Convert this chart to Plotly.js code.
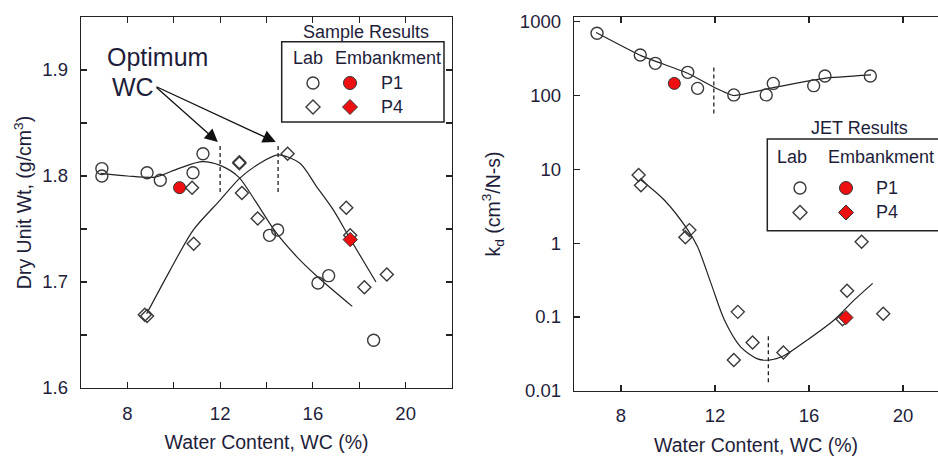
<!DOCTYPE html>
<html><head><meta charset="utf-8">
<script src="https://cdn.plot.ly/plotly-3.0.1.min.js"></script>
<style>html,body{margin:0;padding:0;background:#fff}</style>
</head><body><div id="chart" style="width:938px;height:456px"></div>
<script>
// ---------- Left panel: Sample (proctor) results ----------
const dryP1LabWC  = [6.9, 6.9, 8.85, 9.42, 10.83, 11.26, 14.13, 14.48, 16.22, 16.68, 18.62];
const dryP1LabWt  = [1.807, 1.800, 1.803, 1.796, 1.803, 1.821, 1.744, 1.749, 1.699, 1.706, 1.645];
const dryP1EmbWC  = [10.25];
const dryP1EmbWt  = [1.789];
const dryP4LabWC  = [8.75, 8.85, 10.79, 10.86, 12.83, 12.83, 12.94, 13.62, 14.91, 17.44, 17.61, 18.22, 19.19];
const dryP4LabWt  = [1.669, 1.668, 1.789, 1.736, 1.813, 1.812, 1.784, 1.760, 1.821, 1.770, 1.744, 1.695, 1.707];
const dryP4EmbWC  = [17.61];
const dryP4EmbWt  = [1.740];
const dryP1FitWC  = [6.85, 8.0, 9.2, 10.2, 11.2, 12.0, 12.8, 13.5, 14.4, 15.3, 16.2, 17.7];
const dryP1FitWt  = [1.8025, 1.800, 1.799, 1.807, 1.8135, 1.810, 1.799, 1.777, 1.747, 1.724, 1.705, 1.677];
const dryP4FitWC  = [8.83, 9.84, 10.84, 11.99, 12.85, 13.71, 14.5, 15.44, 16.16, 16.88, 17.6, 18.72];
const dryP4FitWt  = [1.670, 1.711, 1.749, 1.777, 1.798, 1.812, 1.820, 1.812, 1.790, 1.768, 1.741, 1.700];
const optimumWC   = [12, 14.5];
const optimumWtSpan = [1.785, 1.831];
const dryXTicks = [8, 12, 16, 20];
const dryXMinor = [10, 14, 18];
const dryYTicks = [1.6, 1.7, 1.8, 1.9];
const dryYMinor = [1.65, 1.75, 1.85];

// ---------- Right panel: JET results ----------
const kdP1LabWC = [6.98, 8.82, 9.46, 10.84, 11.26, 12.8, 14.18, 14.48, 16.2, 16.68, 18.61];
const kdP1LabKd = [697, 354, 273, 206, 125, 102, 102, 146, 136, 184, 184];
const kdP1EmbWC = [10.27];
const kdP1EmbKd = [146];
const kdP4LabWC = [8.75, 8.85, 10.74, 10.91, 12.97, 12.8, 13.6, 14.91, 17.62, 17.43, 18.24, 19.16];
const kdP4LabKd = [8.4, 6.1, 1.2, 1.5, 0.117, 0.026, 0.045, 0.033, 0.226, 0.093, 1.04, 0.11];
const kdP4EmbWC = [17.57];
const kdP4EmbKd = [0.098];
const kdP1FitWC = [6.94, 8.85, 10.84, 11.97, 12.8, 14.52, 16.65, 18.64];
const kdP1FitKd = [714, 347, 200, 129, 100, 129, 171, 190];
const kdP4FitWC = [8.85, 9.84, 10.84, 11.26, 11.83, 12.4, 13.1, 13.81, 14.31, 14.95, 15.94, 17.07, 17.93, 18.71];
const kdP4FitKd = [7.16, 3.84, 1.51, 0.89, 0.285, 0.091, 0.039, 0.027, 0.026, 0.030, 0.049, 0.091, 0.17, 0.285];
const kdOptP1WC = 11.95, kdOptP1Span = [57, 259];
const kdOptP4WC = 14.27, kdOptP4Span = [0.013, 0.06];
const kdXTicks = [8, 12, 16, 20];
const kdYTicks = [0.01, 0.1, 1, 10, 100, 1000];
const kdYText  = ['0.01', '0.1', '1', '10', '100', '1000'];

const W = 938, H = 456;
const TXT = '#1e1e3a', LINE = '#222', MK = '#3a3a3a', RED = '#ee1010';
const FONT = 'Liberation Sans, Arial, sans-serif';
const px = v => v / W, py = v => 1 - v / H;

const fitLine = {color: LINE, width: 1.2, shape: 'spline', smoothing: 0.8};
const fitLineStraight = {color: LINE, width: 1.2, shape: 'spline', smoothing: 0.4};
const dashLine = {color: LINE, width: 1.3, dash: '4px,3px'};
const hollow = (sym, size) => ({symbol: sym, size: size, color: 'rgba(255,255,255,0)', line: {color: MK, width: 1.4}});
const filled = (sym, size) => ({symbol: sym, size: size, color: RED, line: {color: '#333', width: 1}});

const traces = [
  {x: dryP1FitWC, y: dryP1FitWt, mode: 'lines', line: fitLine, xaxis: 'x', yaxis: 'y'},
  {x: dryP4FitWC, y: dryP4FitWt, mode: 'lines', line: fitLine, xaxis: 'x', yaxis: 'y'},
  {x: [optimumWC[0], optimumWC[0]], y: optimumWtSpan, mode: 'lines', line: dashLine, xaxis: 'x', yaxis: 'y'},
  {x: [optimumWC[1], optimumWC[1]], y: optimumWtSpan, mode: 'lines', line: dashLine, xaxis: 'x', yaxis: 'y'},
  {x: dryP1LabWC, y: dryP1LabWt, mode: 'markers', marker: hollow('circle', 12), xaxis: 'x', yaxis: 'y'},
  {x: dryP4LabWC, y: dryP4LabWt, mode: 'markers', marker: hollow('diamond', 10), xaxis: 'x', yaxis: 'y'},
  {x: dryP1EmbWC, y: dryP1EmbWt, mode: 'markers', marker: filled('circle', 12), xaxis: 'x', yaxis: 'y'},
  {x: dryP4EmbWC, y: dryP4EmbWt, mode: 'markers', marker: filled('diamond', 11), xaxis: 'x', yaxis: 'y'},

  {x: kdP1FitWC, y: kdP1FitKd, mode: 'lines', line: fitLineStraight, xaxis: 'x2', yaxis: 'y2'},
  {x: kdP4FitWC, y: kdP4FitKd, mode: 'lines', line: fitLine, xaxis: 'x2', yaxis: 'y2'},
  {x: [kdOptP1WC, kdOptP1WC], y: kdOptP1Span, mode: 'lines', line: dashLine, xaxis: 'x2', yaxis: 'y2'},
  {x: [kdOptP4WC, kdOptP4WC], y: kdOptP4Span, mode: 'lines', line: dashLine, xaxis: 'x2', yaxis: 'y2'},
  {x: kdP1LabWC, y: kdP1LabKd, mode: 'markers', marker: hollow('circle', 12), xaxis: 'x2', yaxis: 'y2'},
  {x: kdP4LabWC, y: kdP4LabKd, mode: 'markers', marker: hollow('diamond', 10), xaxis: 'x2', yaxis: 'y2'},
  {x: kdP1EmbWC, y: kdP1EmbKd, mode: 'markers', marker: filled('circle', 12), xaxis: 'x2', yaxis: 'y2'},
  {x: kdP4EmbWC, y: kdP4EmbKd, mode: 'markers', marker: filled('diamond', 11), xaxis: 'x2', yaxis: 'y2'}
];

const axBase = {
  showgrid: false, zeroline: false, showline: true, linecolor: LINE, linewidth: 1.3,
  ticks: 'inside', ticklen: 6, tickwidth: 1.2, tickcolor: LINE,
  tickfont: {family: FONT, size: 18.5, color: TXT}, tickmode: 'array'
};
const minorOf = vals => ({tickvals: vals, ticks: 'inside', ticklen: 6, tickwidth: 1.2, tickcolor: LINE, showgrid: false});
const titleFont = {family: FONT, size: 19.5, color: TXT};

const layout = {
  width: W, height: H, showlegend: false,
  paper_bgcolor: '#fff', plot_bgcolor: '#fff',
  margin: {l: 0, r: 0, t: 0, b: 0},
  font: {family: FONT, color: TXT},
  xaxis: Object.assign({}, axBase, {
    domain: [px(81), px(452)], range: [6, 22], anchor: 'y', mirror: 'ticks',
    tickvals: dryXTicks, minor: minorOf(dryXMinor), ticklabelstandoff: 8,
    title: {text: 'Water Content, WC (%)', font: titleFont, standoff: 12}
  }),
  yaxis: Object.assign({}, axBase, {
    domain: [1 - 388 / H, 1 - 17 / H], range: [1.6, 1.95], anchor: 'x', mirror: 'ticks',
    tickvals: dryYTicks, minor: minorOf(dryYMinor), ticklabelstandoff: 8,
    title: {text: 'Dry Unit Wt, (g/cm<sup>3</sup>)', font: titleFont, standoff: 5}
  }),
  xaxis2: Object.assign({}, axBase, {
    domain: [px(574), 1], range: [6, 21.49], anchor: 'y2', mirror: 'ticks',
    tickvals: kdXTicks, ticklabelstandoff: 8,
    title: {text: 'Water Content, WC (%)', font: titleFont, standoff: 16}
  }),
  yaxis2: Object.assign({}, axBase, {
    domain: [1 - 390.7 / H, 1 - 17.3 / H], type: 'log', range: [-2, 3.06], anchor: 'x2', mirror: false,
    tickvals: kdYTicks, ticktext: kdYText, ticklabelstandoff: 8,
    title: {text: 'k<sub>d</sub> (cm<sup>3</sup>/N-s)', font: titleFont, standoff: 14}
  }),
  annotations: [],
  shapes: []
};

const A = layout.annotations, S = layout.shapes;
function txt(t, x, y, size) {
  A.push({text: t, xref: 'paper', yref: 'paper', x: px(x), y: py(y), xanchor: 'center', yanchor: 'middle',
    showarrow: false, font: {family: FONT, size: size || 18, color: TXT}});
}
function rect(x0, y0, x1, y1) {
  S.push({type: 'rect', xref: 'paper', yref: 'paper', x0: px(x0), x1: px(x1), y0: py(y0), y1: py(y1),
    line: {color: LINE, width: 1.5}, fillcolor: 'rgba(0,0,0,0)'});
}
function circ(cx, cy, r, fill) {
  S.push({type: 'circle', xref: 'paper', yref: 'paper', x0: px(cx - r), x1: px(cx + r), y0: py(cy + r), y1: py(cy - r),
    line: {color: fill ? '#333' : MK, width: fill ? 1 : 1.4}, fillcolor: fill ? RED : 'rgba(0,0,0,0)'});
}
function diam(cx, cy, r, fill) {
  const p = `M ${px(cx)} ${py(cy - r)} L ${px(cx + r)} ${py(cy)} L ${px(cx)} ${py(cy + r)} L ${px(cx - r)} ${py(cy)} Z`;
  S.push({type: 'path', xref: 'paper', yref: 'paper', path: p,
    line: {color: fill ? '#333' : MK, width: fill ? 1 : 1.4}, fillcolor: fill ? RED : 'rgba(0,0,0,0)'});
}

// Left legend
txt('Sample Results', 366, 32, 18);
rect(281.7, 41.7, 444, 122);
txt('Lab', 308, 58, 18); txt('Embankment', 388, 58, 18);
circ(313, 83, 6, false); circ(350, 83, 6.5, true); txt('P1', 392, 83, 18);
diam(313, 107, 7, false); diam(350, 107, 7.5, true); txt('P4', 392, 107, 18);

// Right legend
txt('JET Results', 859, 128, 18);
rect(767.3, 139, 960, 230.7);
txt('Lab', 792, 157, 18); txt('Embankment', 881, 157, 18);
circ(800, 188, 6, false); circ(846, 188, 6.5, true); txt('P1', 887, 188, 18);
diam(800, 212.5, 7, false); diam(846, 212.5, 7.5, true); txt('P4', 887, 212.5, 18);

// Optimum WC label and arrows
txt('Optimum', 157, 57, 25);
txt('WC', 133, 87, 25);
A.push({xref: 'x', yref: 'y', x: optimumWC[0] - 0.1, y: 1.832, ax: -62.8, ay: -56, text: '', showarrow: true,
  arrowhead: 2, arrowsize: 2, arrowwidth: 1.3, arrowcolor: '#111', standoff: 0});
A.push({xref: 'x', yref: 'y', x: optimumWC[1] - 0.1, y: 1.832, ax: -120.8, ay: -56, text: '', showarrow: true,
  arrowhead: 2, arrowsize: 2, arrowwidth: 1.3, arrowcolor: '#111', standoff: 0});

Plotly.newPlot('chart', traces, layout, {staticPlot: true, displayModeBar: false});
</script></body></html>
